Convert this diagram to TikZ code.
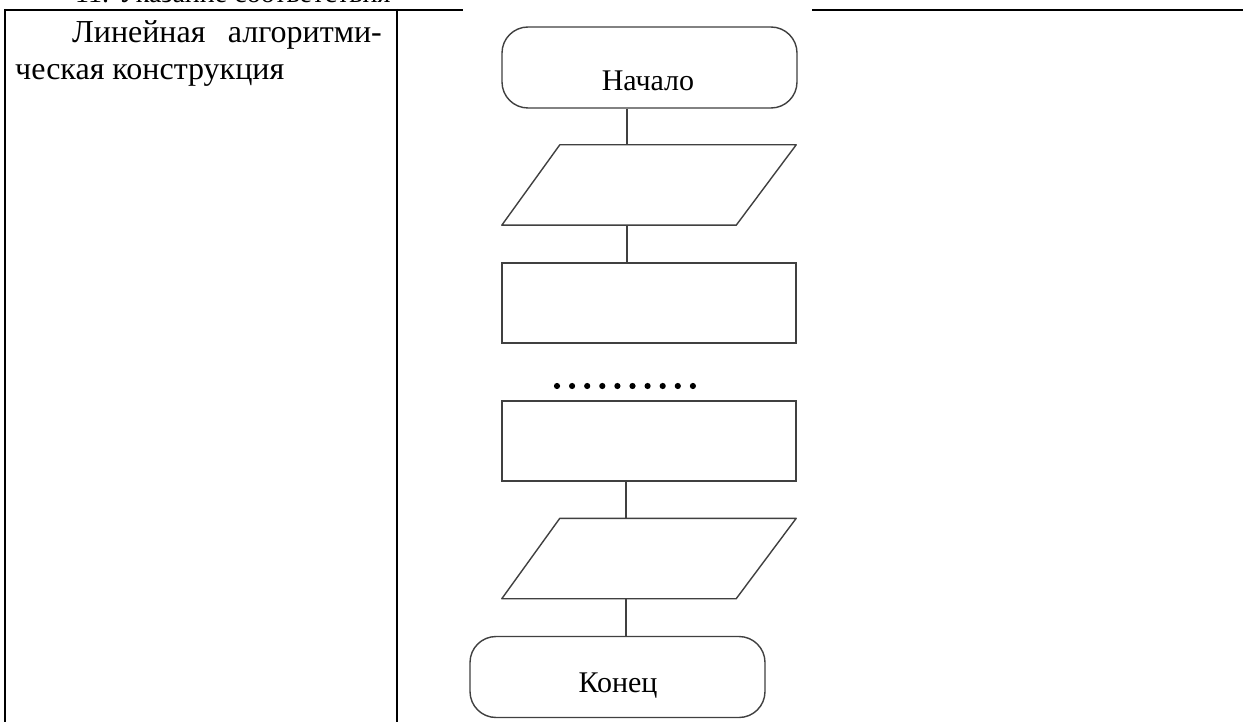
\documentclass[tikz,border=0pt]{standalone}
\usepackage{fontspec}
\setmainfont{Liberation Serif}
\usetikzlibrary{calc}
\begin{document}
\begin{tikzpicture}[x=1pt,y=-1pt,
  frameline/.style={line width=2pt,black},
  fcline/.style={line width=1.4pt,black!75},
  termbox/.style={fcline,draw,rounded corners=26pt,minimum width=295pt,minimum height=81pt,inner sep=0pt},
  procbox/.style={fcline,draw,minimum width=294pt,minimum height=80pt,inner sep=0pt},
  iobox/.style={minimum width=294pt,minimum height=80pt,inner sep=0pt},
  fctext/.style={inner sep=0pt,font=\fontsize{30}{34}\selectfont},
  bodytext/.style={inner sep=0pt,font=\fontsize{32}{37}\selectfont}]
\useasboundingbox (0,0) rectangle (1243,722);
\fill[white] (0,0) rectangle (1243,722);
% table frame
\draw[frameline] (4,10) -- (463,10);
\draw[frameline] (812,10) -- (1243,10);
\draw[frameline] (5,9) -- (5,722);
\draw[frameline] (397,9) -- (397,722);
% cut-off heading
\node[bodytext,anchor=base west,font=\fontsize{28}{32}\selectfont] (head) at (75,3) {11. Указание соответствия};
% left cell text
\node[bodytext,anchor=base west] (lt1) at (72,43) {Линейная};
\node[bodytext,anchor=base east] (lt2) at (382,43) {алгоритми-};
\node[bodytext,anchor=base west] (lt3) at (15,80) {ческая конструкция};
% flowchart
\node[termbox] (start) at (649.5,67.5) {};
\node[fctext] (starttxt) at (648,81) {Начало};
\node[iobox] (in) at (649,185) {};
\draw[fcline,line join=round] ($(in.north west)+(58,0)$) -- (in.north east) -- ($(in.south east)-(60,0)$) -- (in.south west) -- cycle;
\node[procbox] (p1) at (649,303) {};
\foreach \i in {0,...,9} \fill[black] (557+\i*15.1,386) circle (3.1);
\node[procbox] (p2) at (649,441) {};
\node[iobox] (out) at (649,558.5) {};
\draw[fcline,line join=round] ($(out.north west)+(58,0)$) -- (out.north east) -- ($(out.south east)-(60,0)$) -- (out.south west) -- cycle;
\node[termbox] (end) at (617.5,677) {};
\node[fctext] (endtxt) at (618,686) {Конец};
% connectors
\coordinate (ca) at (627,0);
\coordinate (cb) at (626,0);
\draw[fcline] (start.south -| ca) -- (in.north -| ca);
\draw[fcline] (in.south -| ca) -- (p1.north -| ca);
\draw[fcline] (p2.south -| cb) -- (out.north -| cb);
\draw[fcline] (out.south -| cb) -- (end.north -| cb);
\end{tikzpicture}
\end{document}
